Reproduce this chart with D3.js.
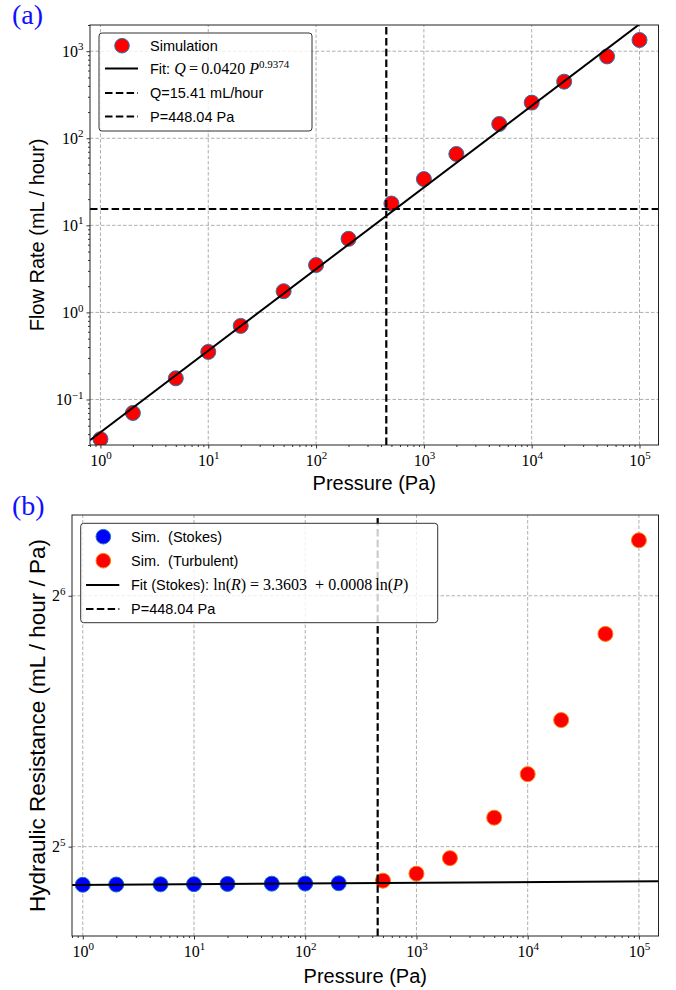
<!DOCTYPE html>
<html>
<head>
<meta charset="utf-8">
<script src="https://cdn.jsdelivr.net/npm/d3@7"></script>
<style>
  body { margin: 0; background: #fff; }
  svg { display: block; }
  text { white-space: pre; }
</style>
</head>
<body>
<svg id="fig" width="676" height="990"></svg>
<script>
// values
const pressure = [1, 2, 5, 10, 20, 50, 100, 200, 500, 1000, 2000, 5000, 1e4, 2e4, 5e4, 1e5];
const flowRate = [0.035, 0.070, 0.175, 0.352, 0.70, 1.75, 3.5, 7.0, 17.8, 34, 66, 146, 257, 447, 871, 1344];

const stokesP = [1, 2, 5, 10, 20, 50, 100, 200];
const stokesR = [28.80, 28.82, 28.84, 28.85, 28.87, 28.89, 28.90, 28.92];
const turbP = [500, 1000, 2000, 5000, 1e4, 2e4, 5e4, 1e5];
const turbR = [29.13, 29.70, 31.0, 34.67, 39.1, 45.4, 57.6, 74.6];

// fit parameters, as given in the legends
const fitA = { coef: 0.0420, expo: 0.9374 };
const fitB = { a: 3.3603, b: 0.0008 };
const qCrit = 15.41, pCrit = 448.04;

const xTicks = [1, 10, 100, 1e3, 1e4, 1e5];
const yTicksA = [0.1, 1, 10, 100, 1000];
const yTicksB = [32, 64];

const sans = "'Liberation Sans', Arial, sans-serif";
const serif = "'Liberation Serif', 'Times New Roman', serif";

const svg = d3.select("#fig");
svg.append("rect").attr("width", 676).attr("height", 990).attr("fill", "#fff");

function minorLog10(scale) {
  const [lo, hi] = scale.domain();
  let out = [];
  for (let e = Math.floor(Math.log10(lo)); e <= Math.ceil(Math.log10(hi)); e++) {
    for (let k = 2; k <= 9; k++) {
      let v = k * Math.pow(10, e);
      if (v >= lo && v <= hi) out.push(v);
    }
  }
  return out;
}

function powLabels(axisG, base, expOf) {
  axisG.selectAll(".tick text").each(function(d) {
    const t = d3.select(this).text(null)
      .attr("font-family", serif).attr("font-size", 16).attr("fill", "#000");
    t.append("tspan").text(base);
    t.append("tspan").attr("font-size", 11).attr("dy", -6.5).text(expOf(d));
  });
}

function drawAxes(g, x, y, o) {
  const [x0, x1] = x.range(), [y0, y1] = y.range();

  const grid = g.append("g").attr("stroke", "#9a9a9a").attr("stroke-width", 0.8)
    .attr("stroke-dasharray", "3.5,2");
  grid.append("g").selectAll("line").data(o.xTicks).join("line")
    .attr("x1", d => x(d)).attr("x2", d => x(d)).attr("y1", y0).attr("y2", y1);
  grid.append("g").selectAll("line").data(o.yTicks).join("line")
    .attr("y1", d => y(d)).attr("y2", d => y(d)).attr("x1", x0).attr("x2", x1);

  // bottom axis
  let bx = g.append("g").attr("transform", `translate(0,${y0})`).attr("color", "#000")
    .call(d3.axisBottom(x).tickValues(o.xTicks).tickSize(3.5).tickSizeOuter(0).tickPadding(6).tickFormat(""));
  bx.select(".domain").remove();
  powLabels(bx, "10", d => String(Math.round(Math.log10(d))));
  let bm = g.append("g").attr("transform", `translate(0,${y0})`).attr("color", "#000")
    .call(d3.axisBottom(x).tickValues(minorLog10(x)).tickSize(2).tickSizeOuter(0).tickFormat(""));
  bm.select(".domain").remove();

  // left axis
  let ly = g.append("g").attr("transform", `translate(${x0},0)`).attr("color", "#000")
    .call(d3.axisLeft(y).tickValues(o.yTicks).tickSize(3.5).tickSizeOuter(0).tickPadding(3).tickFormat(""));
  ly.select(".domain").remove();
  powLabels(ly, o.yBase, o.yExp);
  if (o.yMinor) {
    let lm = g.append("g").attr("transform", `translate(${x0},0)`).attr("color", "#000")
      .call(d3.axisLeft(y).tickValues(minorLog10(y)).tickSize(2).tickSizeOuter(0).tickFormat(""));
    lm.select(".domain").remove();
  }
  g.selectAll(".tick line").attr("stroke-width", 0.8);
}

function frame(g, x, y) {
  const [x0, x1] = x.range(), [y0, y1] = y.range();
  g.append("rect").attr("x", x0).attr("y", y1).attr("width", x1 - x0).attr("height", y0 - y1)
    .attr("fill", "none").attr("stroke", "#222").attr("stroke-width", 1);
}

function clip(id, x, y) {
  const [x0, x1] = x.range(), [y0, y1] = y.range();
  svg.append("clipPath").attr("id", id).append("rect")
    .attr("x", x0).attr("y", y1).attr("width", x1 - x0).attr("height", y0 - y1);
  return `url(#${id})`;
}

function richText(sel, parts) {
  parts.forEach(p => {
    const ts = sel.append("tspan").text(p.t).attr("font-family", p.f === "serif" ? serif : sans);
    if (p.f === "serif") ts.attr("font-size", 16);
    if (p.i) ts.attr("font-style", "italic");
    if (p.sup) ts.attr("font-size", 11).attr("dy", -6);
  });
}

function legend(g, box, rows) {
  g.append("rect").attr("x", box.x).attr("y", box.y).attr("width", box.w).attr("height", box.h)
    .attr("rx", 3).attr("fill", "#fff").attr("fill-opacity", 0.8)
    .attr("stroke", "#333").attr("stroke-width", 1);
  rows.forEach(r => {
    if (r.type === "dot") {
      g.append("circle").attr("cx", box.mx).attr("cy", r.y).attr("r", 7.3)
        .attr("fill", r.fill).attr("stroke", r.stroke).attr("stroke-width", 1);
    } else {
      g.append("line").attr("x1", box.l0).attr("x2", box.l1).attr("y1", r.y).attr("y2", r.y)
        .attr("stroke", "#000").attr("stroke-width", 2.2)
        .attr("stroke-dasharray", r.type === "dash" ? "7.5,3.3" : null);
    }
    const t = g.append("text").attr("x", box.tx).attr("y", r.y + 5)
      .attr("font-size", 14.5).attr("fill", "#000");
    richText(t, r.parts);
  });
}

// ---------- panel (a) ----------
const xA = d3.scaleLog().domain([0.8, 1.5e5]).range([90, 658.5]);
const yA = d3.scaleLog().domain([0.03, 2000]).range([445, 25]);
const gA = svg.append("g");
drawAxes(gA, xA, yA, {
  xTicks: xTicks, yTicks: yTicksA, yBase: "10", yMinor: true,
  yExp: d => { const e = Math.round(Math.log10(d)); return e < 0 ? "\u2212" + (-e) : String(e); }
});
const clipA = clip("clipA", xA, yA);
const plotA = gA.append("g").attr("clip-path", clipA);

plotA.selectAll("circle").data(pressure).join("circle")
  .attr("cx", d => xA(d)).attr("cy", (d, i) => yA(flowRate[i])).attr("r", 7.5)
  .attr("fill", "#ff0000").attr("stroke", "#1f77b4").attr("stroke-width", 1);

const fitLineA = d3.line().x(d => xA(d)).y(d => yA(fitA.coef * Math.pow(d, fitA.expo)));
plotA.append("path").datum(xA.domain()).attr("d", fitLineA)
  .attr("fill", "none").attr("stroke", "#000").attr("stroke-width", 2);
plotA.append("line").attr("x1", xA.range()[0]).attr("x2", xA.range()[1])
  .attr("y1", yA(qCrit)).attr("y2", yA(qCrit))
  .attr("stroke", "#000").attr("stroke-width", 2.2).attr("stroke-dasharray", "7.5,3.3");
plotA.append("line").attr("x1", xA(pCrit)).attr("x2", xA(pCrit))
  .attr("y1", yA.range()[0]).attr("y2", yA.range()[1])
  .attr("stroke", "#000").attr("stroke-width", 2.2).attr("stroke-dasharray", "7.5,3.3");
frame(gA, xA, yA);

legend(gA, { x: 99, y: 33, w: 213, h: 98, mx: 122, l0: 105, l1: 138, tx: 150 }, [
  { type: "dot", y: 45.7, fill: "#ff0000", stroke: "#1f77b4", parts: [{ t: "Simulation" }] },
  { type: "line", y: 68.5, parts: [{ t: "Fit: " }, { t: "Q", f: "serif", i: true }, { t: "\u2009=\u20090.0420 ", f: "serif" },
      { t: "P", f: "serif", i: true }, { t: "0.9374", f: "serif", sup: true }] },
  { type: "dash", y: 93, parts: [{ t: "Q=15.41 mL/hour" }] },
  { type: "dash", y: 116.5, parts: [{ t: "P=448.04 Pa" }] }
]);

gA.append("text").attr("x", (90 + 658.5) / 2).attr("y", 489.5).attr("text-anchor", "middle")
  .attr("font-family", sans).attr("font-size", 20).text("Pressure (Pa)");
gA.append("text").attr("transform", "translate(44,235) rotate(-90)").attr("text-anchor", "middle")
  .attr("font-family", sans).attr("font-size", 20).text("Flow Rate (mL / hour)");
svg.append("text").attr("x", 12).attr("y", 24).attr("font-family", serif).attr("font-size", 28)
  .attr("fill", "#1010ff").text("(a)");

// ---------- panel (b) ----------
const xB = d3.scaleLog().domain([0.8, 1.5e5]).range([72, 658.5]);
const yB = d3.scaleLog().base(2).domain([25, 80]).range([936, 515]);
const gB = svg.append("g");
drawAxes(gB, xB, yB, {
  xTicks: xTicks, yTicks: yTicksB, yBase: "2", yMinor: false,
  yExp: d => String(Math.round(Math.log2(d)))
});
const clipB = clip("clipB", xB, yB);
const plotB = gB.append("g").attr("clip-path", clipB);

plotB.append("g").selectAll("circle").data(stokesP).join("circle")
  .attr("cx", d => xB(d)).attr("cy", (d, i) => yB(stokesR[i])).attr("r", 7.5)
  .attr("fill", "#0000ff").attr("stroke", "#1f77b4").attr("stroke-width", 1);
plotB.append("g").selectAll("circle").data(turbP).join("circle")
  .attr("cx", d => xB(d)).attr("cy", (d, i) => yB(turbR[i])).attr("r", 7.5)
  .attr("fill", "#ff0000").attr("stroke", "#ff7f0e").attr("stroke-width", 1);

const fitLineB = d3.line().x(d => xB(d)).y(d => yB(Math.exp(fitB.a + fitB.b * Math.log(d))));
plotB.append("path").datum(xB.domain()).attr("d", fitLineB)
  .attr("fill", "none").attr("stroke", "#000").attr("stroke-width", 2);
plotB.append("line").attr("x1", xB(pCrit)).attr("x2", xB(pCrit))
  .attr("y1", yB.range()[0]).attr("y2", yB.range()[1])
  .attr("stroke", "#000").attr("stroke-width", 2.2).attr("stroke-dasharray", "7.5,3.3");
frame(gB, xB, yB);

legend(gB, { x: 80.7, y: 523.3, w: 357, h: 99.4, mx: 103.3, l0: 86, l1: 119.3, tx: 131 }, [
  { type: "dot", y: 536.7, fill: "#0000ff", stroke: "#1f77b4", parts: [{ t: "Sim.  (Stokes)" }] },
  { type: "dot", y: 560.7, fill: "#ff0000", stroke: "#ff7f0e", parts: [{ t: "Sim.  (Turbulent)" }] },
  { type: "line", y: 585, parts: [{ t: "Fit (Stokes): " }, { t: "ln(", f: "serif" }, { t: "R", f: "serif", i: true },
      { t: ") = 3.3603  + 0.0008\u2009ln(", f: "serif" }, { t: "P", f: "serif", i: true }, { t: ")", f: "serif" }] },
  { type: "dash", y: 609, parts: [{ t: "P=448.04 Pa" }] }
]);

gB.append("text").attr("x", (72 + 658.5) / 2).attr("y", 983).attr("text-anchor", "middle")
  .attr("font-family", sans).attr("font-size", 20).text("Pressure (Pa)");
gB.append("text").attr("transform", "translate(45,725.5) rotate(-90)").attr("text-anchor", "middle")
  .attr("font-family", sans).attr("font-size", 22.5).text("Hydraulic Resistance (mL / hour / Pa)");
svg.append("text").attr("x", 12).attr("y", 515).attr("font-family", serif).attr("font-size", 28)
  .attr("fill", "#1010ff").text("(b)");
</script>
</body>
</html>
